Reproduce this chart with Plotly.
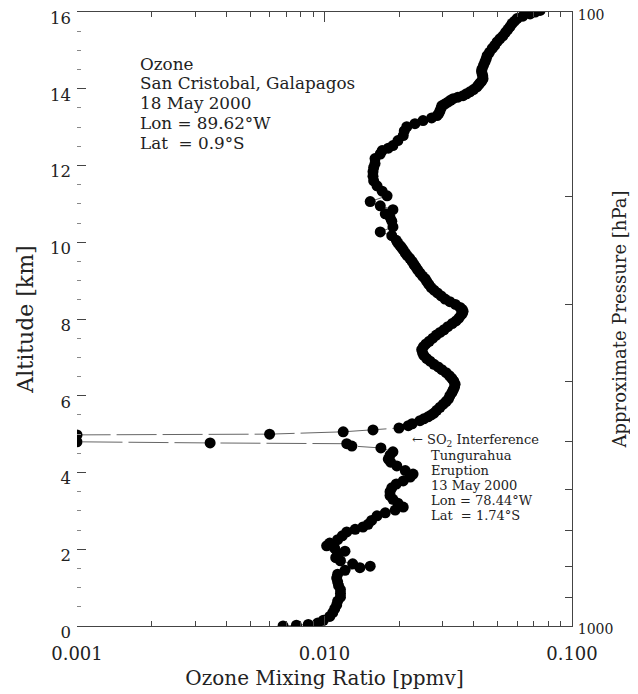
import plotly.graph_objects as go

# Ozone profile (altitude in km, ozone mixing ratio in ppmv)
altitude_km = [
    0.00, 0.02, 0.04, 0.08, 0.15, 0.25, 0.35, 0.45, 0.55, 0.65, 0.75, 0.85, 0.95,
    1.05, 1.15, 1.25, 1.35, 1.45, 1.52, 1.56, 1.62, 1.70, 1.78, 1.88, 1.95,
    2.02, 2.09, 2.16, 2.25, 2.35, 2.45, 2.52, 2.58, 2.65, 2.75, 2.87, 2.95,
    3.02, 3.10, 3.20, 3.30, 3.40, 3.50, 3.60, 3.70, 3.78, 3.88, 3.96,
    4.05, 4.17, 4.27, 4.35, 4.45, 4.54, 4.64, 4.69, 4.75, 4.77, 4.80,
    4.98, 5.00, 5.06, 5.11, 5.16, 5.22, 5.27, 5.35,
    5.40, 5.45, 5.50, 5.55, 5.62, 5.70, 5.78, 5.85, 5.92, 6.00,
    6.08, 6.15, 6.22, 6.30, 6.38, 6.45, 6.52, 6.60, 6.68, 6.75,
    6.82, 6.90, 6.97, 7.05, 7.12, 7.20, 7.28, 7.35, 7.42, 7.50,
    7.58, 7.65, 7.72, 7.80, 7.88, 7.95, 8.02, 8.10, 8.15, 8.20,
    8.25, 8.30, 8.38, 8.45, 8.52, 8.60, 8.68, 8.75, 8.82, 8.90,
    8.98, 9.05, 9.12, 9.20, 9.28, 9.35, 9.42, 9.50, 9.58, 9.65,
    9.72, 9.80, 9.86, 9.91, 9.98,
    10.05, 10.17, 10.27, 10.40, 10.55, 10.65, 10.74, 10.85, 10.95, 11.06,
    11.21, 11.33, 11.47, 11.60, 11.72, 11.84, 11.95, 12.05, 12.18, 12.30,
    12.39, 12.45, 12.52, 12.65, 12.78, 12.90, 13.01, 13.09, 13.17, 13.24,
    13.30, 13.36, 13.43, 13.50, 13.56, 13.60, 13.65, 13.70, 13.74, 13.78,
    13.82, 13.87, 13.92, 13.98, 14.05, 14.10, 14.15, 14.20, 14.26, 14.33,
    14.40, 14.46, 14.52, 14.61, 14.70, 14.78, 14.86, 14.95, 15.05, 15.13,
    15.22, 15.30, 15.38, 15.47, 15.55, 15.62, 15.70, 15.76, 15.83, 15.89,
    15.95, 16.00, 16.04,
]
ozone_ppmv = [
    0.0068, 0.0077, 0.0086, 0.0094, 0.0099, 0.0105, 0.0108, 0.0110, 0.0112, 0.0113, 0.0116, 0.0116, 0.0116,
    0.0114, 0.0113, 0.0112, 0.0113, 0.0121, 0.0139, 0.0153, 0.0130, 0.0116, 0.0111, 0.0113, 0.0121,
    0.0110, 0.0102, 0.0105, 0.0113, 0.0118, 0.0123, 0.0133, 0.0143, 0.0150, 0.0155, 0.0163, 0.0176,
    0.0193, 0.0208, 0.0198, 0.0189, 0.0184, 0.0184, 0.0187, 0.0195, 0.0208, 0.0222, 0.0228,
    0.0212, 0.0196, 0.0185, 0.0181, 0.0184, 0.0189, 0.0169, 0.0129, 0.0123, 0.00345, 0.0010,
    0.0010, 0.0060, 0.0119, 0.0157, 0.0200, 0.0218, 0.0226, 0.0243,
    0.0252, 0.0262, 0.0270, 0.0277, 0.0284, 0.0293, 0.0302, 0.0310, 0.0317, 0.0321,
    0.0327, 0.0331, 0.0335, 0.0337, 0.0333, 0.0327, 0.0320, 0.0310, 0.0298, 0.0288,
    0.0277, 0.0267, 0.0259, 0.0252, 0.0249, 0.0247, 0.0251, 0.0257, 0.0265, 0.0274,
    0.0283, 0.0293, 0.0304, 0.0315, 0.0328, 0.0340, 0.0349, 0.0356, 0.0361, 0.0363,
    0.0360, 0.0353, 0.0338, 0.0321, 0.0307, 0.0296, 0.0286, 0.0277, 0.0270, 0.0264,
    0.0259, 0.0255, 0.0249, 0.0243, 0.0238, 0.0234, 0.0230, 0.0226, 0.0221, 0.0216,
    0.0212, 0.0208, 0.0205, 0.0202, 0.0198,
    0.0195, 0.0187, 0.0168, 0.0189, 0.0187, 0.0184, 0.0176, 0.0189, 0.0168, 0.0153,
    0.0179, 0.0171, 0.0163, 0.0158, 0.0157, 0.0157, 0.0158, 0.0160, 0.0160, 0.0168,
    0.0171, 0.0181, 0.0189, 0.0198, 0.0208, 0.0210, 0.0215, 0.0232, 0.0250, 0.0271,
    0.0285, 0.0290, 0.0293, 0.0296, 0.0298, 0.0306, 0.0315, 0.0323, 0.0331, 0.0346,
    0.0363, 0.0375, 0.0387, 0.0400, 0.0413, 0.0419, 0.0425, 0.0432, 0.0437, 0.0436,
    0.0433, 0.0431, 0.0433, 0.0439, 0.0445, 0.0450, 0.0454, 0.0464, 0.0476, 0.0487,
    0.0498, 0.0511, 0.0526, 0.0539, 0.0551, 0.0562, 0.0573, 0.0586, 0.0600, 0.0633,
    0.0677, 0.0710, 0.0743,
]
assert len(altitude_km) == len(ozone_ppmv)

x_tick_vals = [0.001, 0.01, 0.1]
x_tick_text = ["0.001", "0.010", "0.100"]
x_minor_vals = [0.002, 0.003, 0.004, 0.005, 0.006, 0.007, 0.008, 0.009,
                0.02, 0.03, 0.04, 0.05, 0.06, 0.07, 0.08, 0.09]
y_tick_vals = [0, 2, 4, 6, 8, 10, 12, 14, 16]
p_tick_vals = [100, 1000]
p_tick_text = ["100", "1000"]
p_minor_vals = [200, 300, 400, 500, 600, 700, 800, 900]

station_lines = ["Ozone", "San Cristobal, Galapagos", "18 May 2000",
                 "Lon = 89.62°W", "Lat  = 0.9°S"]
eruption_lines = ["← SO<sub>2</sub> Interference", "Tungurahua", "Eruption",
                  "13 May 2000", "Lon = 78.44°W", "Lat  = 1.74°S"]

FONT = "DejaVu Serif"
AX = "#444444"
TXT = "#222222"

fig = go.Figure()
fig.add_trace(go.Scatter(
    x=ozone_ppmv, y=altitude_km, mode="lines+markers",
    line=dict(color="#666666", width=1, dash="40px,6px"),
    marker=dict(color="black", size=11),
    showlegend=False, hoverinfo="skip",
))
# attaches the pressure axis so that it is drawn
fig.add_trace(go.Scatter(x=[], y=[], yaxis="y2", showlegend=False, hoverinfo="skip"))

# the page adds an 8 px body margin, so the figure is 8 px smaller than the window
fig.update_layout(
    width=630, height=686,
    margin=dict(l=69, r=66, t=4, b=68),
    paper_bgcolor="white", plot_bgcolor="white",
    font=dict(family=FONT, color=TXT),
    xaxis=dict(
        type="log", range=[-3, -1], tickvals=x_tick_vals, ticktext=x_tick_text,
        ticks="inside", ticklen=10, tickcolor=AX, showline=True, linecolor=AX,
        mirror="ticks", showgrid=False, zeroline=False, automargin=False,
        tickfont=dict(size=18), ticklabelstandoff=11,
        minor=dict(tickvals=x_minor_vals, ticks="inside", ticklen=5, tickcolor=AX, showgrid=False),
        title=dict(text="Ozone Mixing Ratio [ppmv]", font=dict(size=20), standoff=8),
    ),
    yaxis=dict(
        range=[0, 16], tickvals=y_tick_vals, ticks="inside", ticklen=9, tickcolor=AX,
        showline=False, showgrid=False, zeroline=False, automargin=False,
        tickfont=dict(size=16.5), ticklabelstandoff=5, ticklabelshift=6,
        ticklabeloverflow="allow",
        minor=dict(dtick=0.5, ticks="inside", ticklen=4, tickcolor="#888888", showgrid=False),
        title=dict(text="Altitude [km]", font=dict(size=22), standoff=10),
    ),
    yaxis2=dict(
        type="log", range=[3, 2], overlaying="y", side="right", anchor="x",
        tickvals=p_tick_vals, ticktext=p_tick_text, ticks="inside", ticklen=7,
        tickcolor=AX, showline=True, linecolor=AX, showgrid=False, zeroline=False,
        automargin=False, tickfont=dict(size=14), ticklabelstandoff=2, ticklabelshift=-3,
        ticklabeloverflow="allow",
        minor=dict(tickvals=p_minor_vals, ticks="inside", ticklen=7, tickcolor=AX, showgrid=False),
        title=dict(text="Approximate Pressure [hPa]", font=dict(size=18), standoff=0),
    ),
)

left_y = [0.916, 0.884, 0.851, 0.819, 0.786]
for txt, yy in zip(station_lines, left_y):
    fig.add_annotation(xref="paper", yref="paper", x=0.124, y=yy, text=txt,
                       showarrow=False, xanchor="left", yanchor="middle",
                       font=dict(size=16.8, family=FONT, color=TXT))

right_y = [0.3029, 0.2783, 0.2537, 0.2291, 0.2046, 0.1800]
right_x = [0.672, 0.712, 0.712, 0.712, 0.712, 0.712]
for txt, xx, yy in zip(eruption_lines, right_x, right_y):
    fig.add_annotation(xref="paper", yref="paper", x=xx, y=yy, text=txt,
                       showarrow=False, xanchor="left", yanchor="middle",
                       font=dict(size=13, family=FONT, color=TXT))

fig.write_html("out.html")
